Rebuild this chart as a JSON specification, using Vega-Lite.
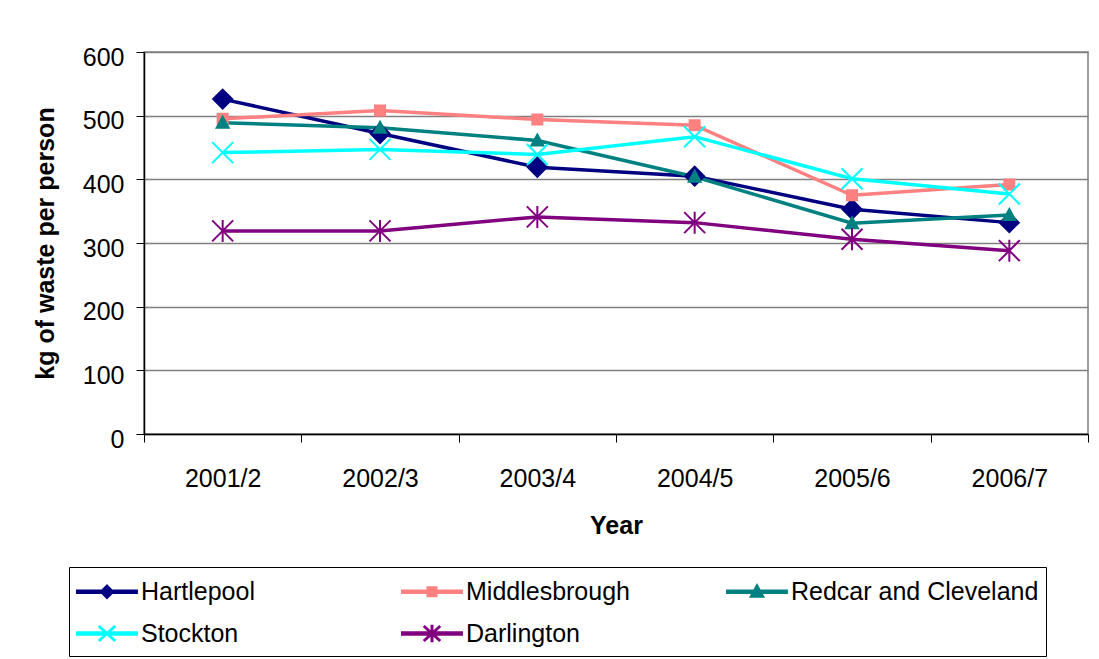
{
  "$schema": "https://vega.github.io/schema/vega-lite/v6.json",
  "width": 944,
  "height": 382,
  "autosize": {"type": "none"},
  "padding": {"left": 144, "top": 52, "right": 11, "bottom": 225},
  "background": "white",
  "config": {
    "font": "Liberation Sans",
    "view": {"stroke": "#808080", "strokeWidth": 1.5},
    "axis": {"labelColor": "black", "titleColor": "black", "labelFont": "Liberation Sans", "titleFont": "Liberation Sans"},
    "legend": {"symbolStrokeWidth": 3}
  },
  "data": {
    "values": [
      {"year": "2001/2", "area": "Hartlepool", "kg": 526},
      {"year": "2002/3", "area": "Hartlepool", "kg": 472},
      {"year": "2003/4", "area": "Hartlepool", "kg": 419},
      {"year": "2004/5", "area": "Hartlepool", "kg": 405},
      {"year": "2005/6", "area": "Hartlepool", "kg": 353},
      {"year": "2006/7", "area": "Hartlepool", "kg": 332},
      {"year": "2001/2", "area": "Middlesbrough", "kg": 495},
      {"year": "2002/3", "area": "Middlesbrough", "kg": 508},
      {"year": "2003/4", "area": "Middlesbrough", "kg": 494},
      {"year": "2004/5", "area": "Middlesbrough", "kg": 485},
      {"year": "2005/6", "area": "Middlesbrough", "kg": 375},
      {"year": "2006/7", "area": "Middlesbrough", "kg": 392},
      {"year": "2001/2", "area": "Redcar and Cleveland", "kg": 489},
      {"year": "2002/3", "area": "Redcar and Cleveland", "kg": 481},
      {"year": "2003/4", "area": "Redcar and Cleveland", "kg": 461},
      {"year": "2004/5", "area": "Redcar and Cleveland", "kg": 404},
      {"year": "2005/6", "area": "Redcar and Cleveland", "kg": 331},
      {"year": "2006/7", "area": "Redcar and Cleveland", "kg": 344},
      {"year": "2001/2", "area": "Stockton", "kg": 442},
      {"year": "2002/3", "area": "Stockton", "kg": 447},
      {"year": "2003/4", "area": "Stockton", "kg": 439},
      {"year": "2004/5", "area": "Stockton", "kg": 467},
      {"year": "2005/6", "area": "Stockton", "kg": 401},
      {"year": "2006/7", "area": "Stockton", "kg": 377},
      {"year": "2001/2", "area": "Darlington", "kg": 319},
      {"year": "2002/3", "area": "Darlington", "kg": 319},
      {"year": "2003/4", "area": "Darlington", "kg": 341},
      {"year": "2004/5", "area": "Darlington", "kg": 332},
      {"year": "2005/6", "area": "Darlington", "kg": 306},
      {"year": "2006/7", "area": "Darlington", "kg": 288}
    ]
  },
  "encoding": {
    "x": {
      "field": "year",
      "type": "nominal",
      "sort": null,
      "scale": {"type": "band", "paddingInner": 0, "paddingOuter": 0},
      "axis": {
        "title": "Year",
        "titleFontSize": 25,
        "titleFontWeight": "bold",
        "titlePadding": 22,
        "labelFontSize": 25,
        "labelAngle": 0,
        "labelPadding": 24,
        "tickSize": 8,
        "tickColor": "black",
        "domainColor": "black",
        "domainWidth": 1.5,
        "tickBand": "extent",
        "grid": false
      }
    },
    "y": {
      "field": "kg",
      "type": "quantitative",
      "scale": {"domain": [0, 600], "nice": false},
      "axis": {
        "title": "kg of waste per person",
        "titleFontSize": 25,
        "titleFontWeight": "bold",
        "titlePadding": 24,
        "values": [0, 100, 200, 300, 400, 500, 600],
        "labelFontSize": 25,
        "labelPadding": 12,
        "labelOffset": 5,
        "tickSize": 8,
        "tickColor": "black",
        "domainColor": "black",
        "domainWidth": 1.5,
        "grid": true,
        "gridColor": "#808080",
        "gridWidth": 1.3
      }
    }
  },
  "layer": [
    {
      "mark": {"type": "line", "strokeWidth": 3.5},
      "encoding": {
        "color": {
          "field": "area",
          "type": "nominal",
          "scale": {
            "domain": ["Hartlepool", "Middlesbrough", "Redcar and Cleveland", "Stockton", "Darlington"],
            "range": ["#000080", "#FF8080", "#008080", "#00FFFF", "#800080"]
          },
          "legend": null
        }
      }
    },
    {
      "transform": [{"filter": "datum.area === 'Hartlepool'"}],
      "mark": {"type": "point", "size": 400, "strokeWidth": 2, "opacity": 1, "fill": "#000080", "stroke": "#000080", "shape": "M0,-0.95L0.95,0L0,0.95L-0.95,0Z"}
    },
    {
      "transform": [{"filter": "datum.area === 'Middlesbrough'"}],
      "mark": {"type": "point", "size": 400, "strokeWidth": 2, "opacity": 1, "fill": "#FF8080", "stroke": "#FF8080", "shape": "M-0.5,-0.5H0.5V0.5H-0.5Z"}
    },
    {
      "transform": [{"filter": "datum.area === 'Redcar and Cleveland'"}],
      "mark": {"type": "point", "size": 400, "strokeWidth": 2, "opacity": 1, "fill": "#008080", "stroke": "#008080", "shape": "M0,-0.6L0.6,0.5H-0.6Z"}
    },
    {
      "transform": [{"filter": "datum.area === 'Stockton'"}],
      "mark": {"type": "point", "size": 400, "strokeWidth": 2, "opacity": 1, "fill": "#00FFFF", "stroke": "#00FFFF", "shape": "M-1.05,-1.05L1.05,1.05M-1.05,1.05L1.05,-1.05"}
    },
    {
      "transform": [{"filter": "datum.area === 'Darlington'"}],
      "mark": {"type": "point", "size": 400, "strokeWidth": 2, "opacity": 1, "fill": "#800080", "stroke": "#800080", "shape": "M-1.05,-1.05L1.05,1.05M-1.05,1.05L1.05,-1.05M0,-1.1V1.1"}
    },
    {
      "mark": {"type": "point", "size": 900, "opacity": 0, "strokeWidth": 3},
      "encoding": {
        "shape": {
          "field": "area",
          "type": "nominal",
          "scale": {
            "domain": ["Hartlepool", "Middlesbrough", "Redcar and Cleveland", "Stockton", "Darlington"],
            "range": [
              "M-1,-0.05H2.93V0.05H-1ZM0.967,-0.37L1.337,0L0.967,0.37L0.597,0Z",
              "M-1,-0.05H2.93V0.05H-1ZM0.697,-0.27H1.237V0.27H0.697Z",
              "M-1,-0.05H2.93V0.05H-1ZM0.967,-0.37L1.337,0.3H0.597Z",
              "M-1,-0.05H2.93V0.05H-1ZM0.417,-0.5L1.517,0.5M0.417,0.5L1.517,-0.5",
              "M-1,-0.05H2.93V0.05H-1ZM0.417,-0.5L1.517,0.5M0.417,0.5L1.517,-0.5M0.967,-0.58V0.58"
            ]
          },
          "legend": {
            "title": null, "orient": "none", "legendX": -75, "legendY": 515,
            "direction": "horizontal", "columns": 3, "gridAlign": "all",
            "columnPadding": 7, "rowPadding": 11, "padding": 7,
            "strokeColor": "black", "symbolSize": 900, "symbolStrokeWidth": 3, "symbolOpacity": 1,
            "labelFontSize": 25, "labelFont": "Liberation Sans", "labelColor": "black",
            "labelLimit": 400, "labelOffset": 32
          }
        },
        "fill": {
          "field": "area",
          "type": "nominal",
          "scale": {
            "domain": ["Hartlepool", "Middlesbrough", "Redcar and Cleveland", "Stockton", "Darlington"],
            "range": ["#000080", "#FF8080", "#008080", "#00FFFF", "#800080"]
          },
          "legend": {
            "title": null, "orient": "none", "legendX": -75, "legendY": 515,
            "direction": "horizontal", "columns": 3, "gridAlign": "all",
            "columnPadding": 7, "rowPadding": 11, "padding": 7,
            "strokeColor": "black", "symbolSize": 900, "symbolStrokeWidth": 3, "symbolOpacity": 1,
            "labelFontSize": 25, "labelFont": "Liberation Sans", "labelColor": "black",
            "labelLimit": 400, "labelOffset": 32
          }
        },
        "stroke": {
          "field": "area",
          "type": "nominal",
          "scale": {
            "domain": ["Hartlepool", "Middlesbrough", "Redcar and Cleveland", "Stockton", "Darlington"],
            "range": ["#000080", "#FF8080", "#008080", "#00FFFF", "#800080"]
          },
          "legend": {
            "title": null, "orient": "none", "legendX": -75, "legendY": 515,
            "direction": "horizontal", "columns": 3, "gridAlign": "all",
            "columnPadding": 7, "rowPadding": 11, "padding": 7,
            "strokeColor": "black", "symbolSize": 900, "symbolStrokeWidth": 3, "symbolOpacity": 1,
            "labelFontSize": 25, "labelFont": "Liberation Sans", "labelColor": "black",
            "labelLimit": 400, "labelOffset": 32
          }
        }
      }
    }
  ],
  "resolve": {"scale": {"shape": "independent", "fill": "independent", "stroke": "independent"}}
}
